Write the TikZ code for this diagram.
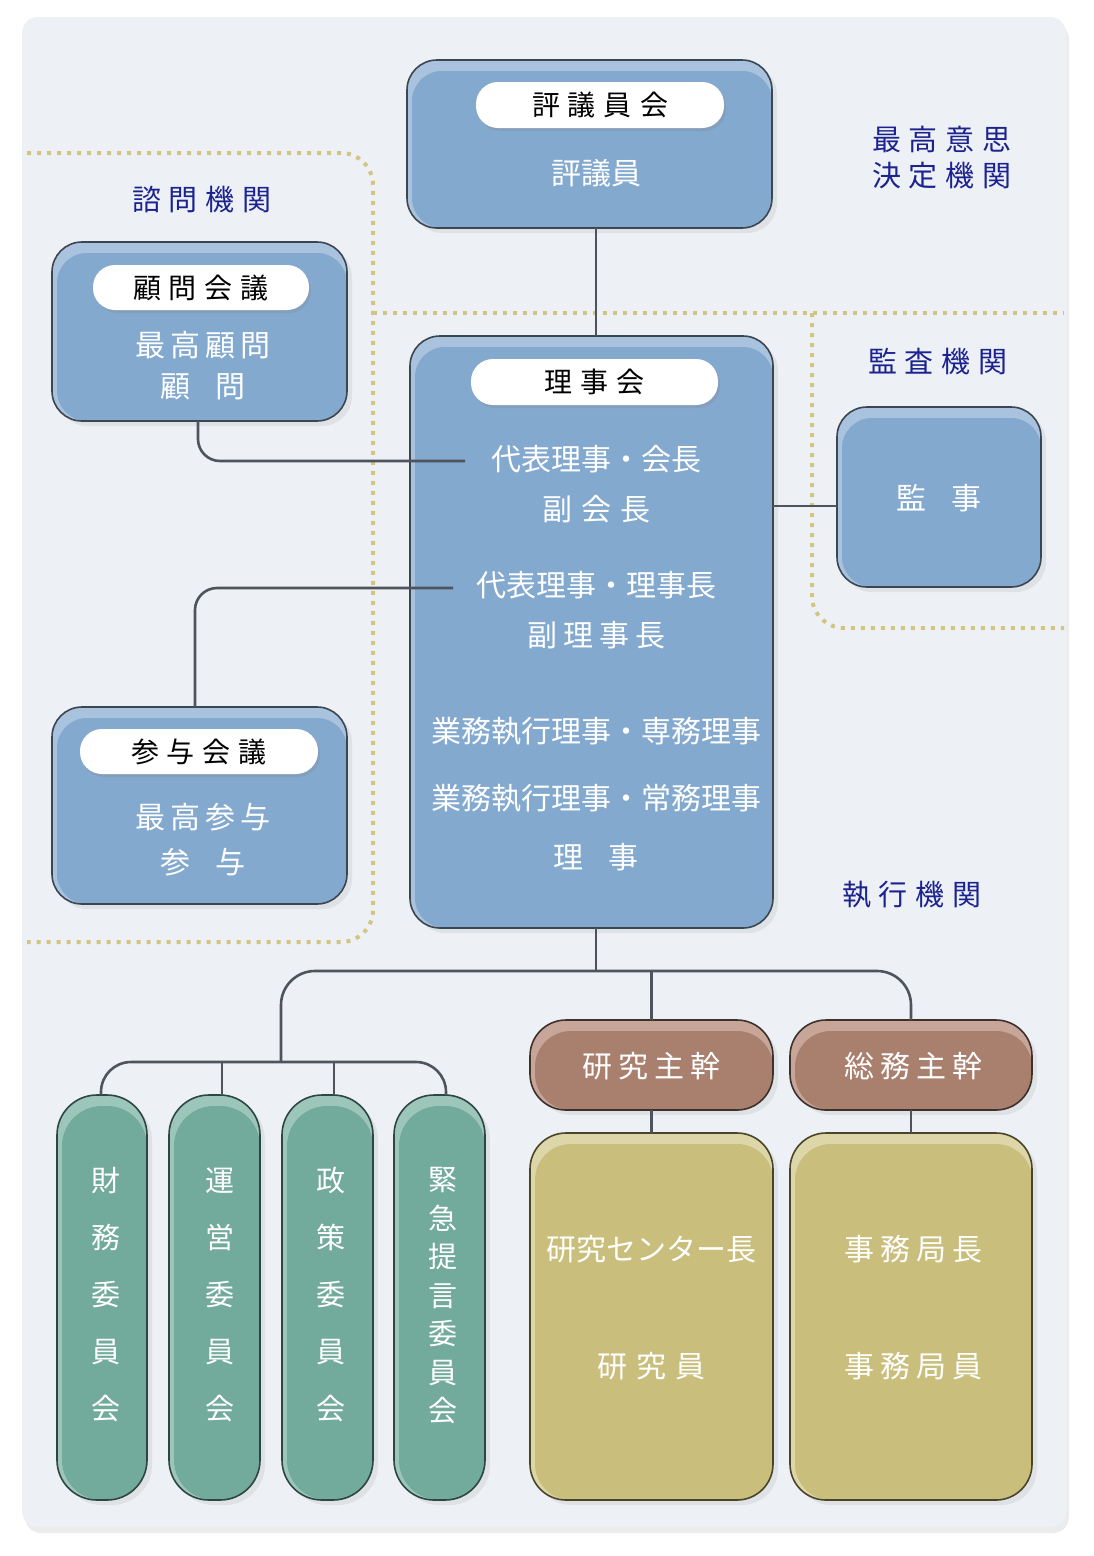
\documentclass[tikz,border=0pt]{standalone}
\usepackage{fontspec}
\setmainfont{Noto Sans CJK JP}
\usetikzlibrary{shadows}
\definecolor{panel}{HTML}{EDF1F5}
\definecolor{bfill}{HTML}{84A9CF}
\definecolor{bhi}{HTML}{A9C2DD}
\definecolor{bdraw}{HTML}{3C4653}
\definecolor{gfill}{HTML}{72AA9B}
\definecolor{ghi}{HTML}{9DC6BA}
\definecolor{gdraw}{HTML}{2E4642}
\definecolor{rfill}{HTML}{A9806E}
\definecolor{rhi}{HTML}{C7A598}
\definecolor{rdraw}{HTML}{3E302A}
\definecolor{yfill}{HTML}{C9BE7B}
\definecolor{yhi}{HTML}{DDD6A8}
\definecolor{ydraw}{HTML}{4A4429}
\definecolor{dotc}{HTML}{D3C482}
\definecolor{navy}{HTML}{1C2390}
\definecolor{linec}{HTML}{4F545C}
\newcommand\jg{\hspace{8pt}}
\newcommand\wg{\hspace{25pt}}
\tikzset{
  orgbox/.style n args={4}{draw=#3, line width=1.6pt, fill=#1, rounded corners=#4,
    inner sep=0pt, outer sep=0pt,
    drop shadow={shadow xshift=5pt, shadow yshift=-5pt, opacity=.13},
    path picture={\fill[#2, rounded corners=#4]
      ([shift={(5pt,-11pt)}]path picture bounding box.north west) rectangle
      (path picture bounding box.south east);}},
  bluebox/.style={orgbox={bhi}{bfill}{bdraw}{30pt}},
  greenbox/.style={orgbox={ghi}{gfill}{gdraw}{40pt}},
  brownbox/.style={orgbox={rhi}{rfill}{rdraw}{36pt}},
  yellowbox/.style={orgbox={yhi}{yfill}{ydraw}{36pt}},
  pilln/.style={fill=white, rounded corners=22pt, inner sep=0pt,
    drop shadow={shadow xshift=2pt, shadow yshift=-3pt, opacity=.22},
    text=black, font=\fontsize{28}{32}\selectfont},
  btxt/.style={text=white, inner sep=0pt, font=\fontsize{30}{34}\selectfont},
  vtxt/.style={text=white, inner sep=0pt, align=center, font=\fontsize{29}{57}\selectfont},
  vtxtb/.style={text=white, inner sep=0pt, align=center, font=\fontsize{29}{38.5}\selectfont},
  navytxt/.style={text=navy, inner sep=0pt, align=center, font=\fontsize{29}{36}\selectfont},
  conn/.style={draw=linec, line width=2.6pt},
  dotl/.style={draw=dotc, line width=4pt, dash pattern=on 4pt off 6pt},
}
\begin{document}
\begin{tikzpicture}[x=1pt,y=-1pt]
\useasboundingbox (0,0) rectangle (1094,1556);
% background panel
\path[fill=panel, rounded corners=16pt,
  drop shadow={shadow xshift=3pt, shadow yshift=-6pt, opacity=.15}]
  (22,17) rectangle (1066,1527);
% dotted region borders
\draw[dotl, rounded corners=32pt] (27,153) -| (373,942) -- (27,942);
\draw[dotl] (373,313) -- (1064,313);
\draw[dotl, rounded corners=32pt] (812,313) |- (1064,628);

% region labels
\node[navytxt] (lbl1) at (202,200) {諮\jg 問\jg 機\jg 関};
\node[navytxt] (lbl2) at (942,158) {最\jg 高\jg 意\jg 思\\決\jg 定\jg 機\jg 関};
\node[navytxt] (lbl3) at (938,362) {監\jg 査\jg 機\jg 関};
\node[navytxt] (lbl4) at (912,895) {執\jg 行\jg 機\jg 関};

% boxes
\node[bluebox, minimum width=365, minimum height=168] (hyo) at (589.5,144) {};
\node[bluebox, minimum width=295, minimum height=179] (komon) at (199.5,331.5) {};
\node[bluebox, minimum width=363, minimum height=592] (riji) at (591.5,632) {};
\node[bluebox, minimum width=204, minimum height=180] (kanji) at (939,497) {};
\node[bluebox, minimum width=295, minimum height=197] (sanyo) at (199.5,805.5) {};
\node[brownbox, minimum width=243, minimum height=90] (kenshu) at (651.5,1065) {};
\node[brownbox, minimum width=242, minimum height=90] (soushu) at (911,1065) {};
\node[yellowbox, minimum width=243, minimum height=367] (kenbox) at (651.5,1316.5) {};
\node[yellowbox, minimum width=242, minimum height=367] (jimubox) at (911,1316.5) {};
\node[greenbox, minimum width=90, minimum height=405] (g1) at (102,1297.5) {};
\node[greenbox, minimum width=91, minimum height=405] (g2) at (214.5,1297.5) {};
\node[greenbox, minimum width=91, minimum height=405] (g3) at (327.5,1297.5) {};
\node[greenbox, minimum width=91, minimum height=405] (g4) at (439.5,1297.5) {};

% pills
\node[pilln, minimum width=248, minimum height=46] (hyoP) at (600,105) {評\jg 議\jg 員\jg 会\hspace{12pt}};
\node[pilln, minimum width=216, minimum height=45] (komonP) at (201,287.5) {顧\jg 問\jg 会\jg 議};
\node[pilln, minimum width=247, minimum height=46] (rijiP) at (594.5,382) {理\jg 事\jg 会};
\node[pilln, minimum width=238, minimum height=45] (sanyoP) at (199,751.5) {参\jg 与\jg 会\jg 議};

% box texts
\node[btxt] (t1) at (596,173) {評議員};
\node[btxt] (t2) at (203,345) {最\hspace{5pt}高\hspace{5pt}顧\hspace{5pt}問};
\node[btxt] (t3) at (203,387) {顧\wg 問};
\node[btxt] (t4) at (596,459) {代表理事・会長};
\node[btxt] (t5) at (596,509) {副\hspace{9pt}会\hspace{9pt}長};
\node[btxt] (t6) at (596,585) {代表理事・理事長};
\node[btxt] (t7) at (596,635) {副\hspace{6pt}理\hspace{6pt}事\hspace{6pt}長};
\node[btxt] (t8) at (596,731) {業務執行理事・専務理事};
\node[btxt] (t9) at (596,798) {業務執行理事・常務理事};
\node[btxt] (t10) at (596,857) {理\wg 事};
\node[btxt] (t11) at (939,498) {監\wg 事};
\node[btxt] (t12) at (203,817) {最\hspace{5pt}高\hspace{5pt}参\hspace{5pt}与};
\node[btxt] (t13) at (203,862) {参\wg 与};
\node[btxt] (t14) at (651,1066) {研\hspace{6pt}究\hspace{6pt}主\hspace{6pt}幹};
\node[btxt] (t15) at (913,1066) {総\hspace{6pt}務\hspace{6pt}主\hspace{6pt}幹};
\node[btxt] (t16) at (651,1249) {研究センター長};
\node[btxt] (t17) at (651,1366) {研\hspace{9pt}究\hspace{9pt}員};
\node[btxt] (t18) at (913,1249) {事\hspace{6pt}務\hspace{6pt}局\hspace{6pt}長};
\node[btxt] (t19) at (913,1366) {事\hspace{6pt}務\hspace{6pt}局\hspace{6pt}員};
\node[vtxt] (v1) at (106,1295) {財\\務\\委\\員\\会};
\node[vtxt] (v2) at (220,1295) {運\\営\\委\\員\\会};
\node[vtxt] (v3) at (331,1295) {政\\策\\委\\員\\会};
\node[vtxtb] (v4) at (443,1296) {緊\\急\\提\\言\\委\\員\\会};

% connectors
\coordinate (c1) at ([xshift=6.5pt]hyo.south);
\draw[conn] (c1) -- (c1 |- riji.north);
\coordinate (kr) at (465,461);
\draw[conn, rounded corners=22pt] ([xshift=-1.5pt]komon.south) |- (kr);
\coordinate (sr) at (453,588);
\draw[conn, rounded corners=22pt] ([xshift=-4.5pt]sanyo.north) |- (sr);
\coordinate (kw) at ([yshift=-9pt]kanji.west);
\draw[conn] (kw) -- (kw -| riji.east);
\coordinate (rb) at ([xshift=4.5pt]riji.south);
\coordinate (jn) at (596,971);
\draw[conn] (rb) -- (jn);
\coordinate (busL) at (281,1062);
\draw[conn, rounded corners=34pt] (busL) |- (jn) -| (soushu.north);
\draw[conn] (kenshu.north) -- (kenshu.north |- jn);
\draw[conn, rounded corners=30pt] ([xshift=-1pt]g1.north) |- (busL) -| ([xshift=6.5pt]g4.north);
\coordinate (g2t) at ([xshift=7.5pt]g2.north);
\coordinate (g3t) at ([xshift=6.5pt]g3.north);
\draw[conn] (g2t) -- (g2t |- busL);
\draw[conn] (g3t) -- (g3t |- busL);
\draw[conn] (kenshu.south) -- (kenbox.north);
\draw[conn] (soushu.south) -- (jimubox.north);
\end{tikzpicture}
\end{document}
